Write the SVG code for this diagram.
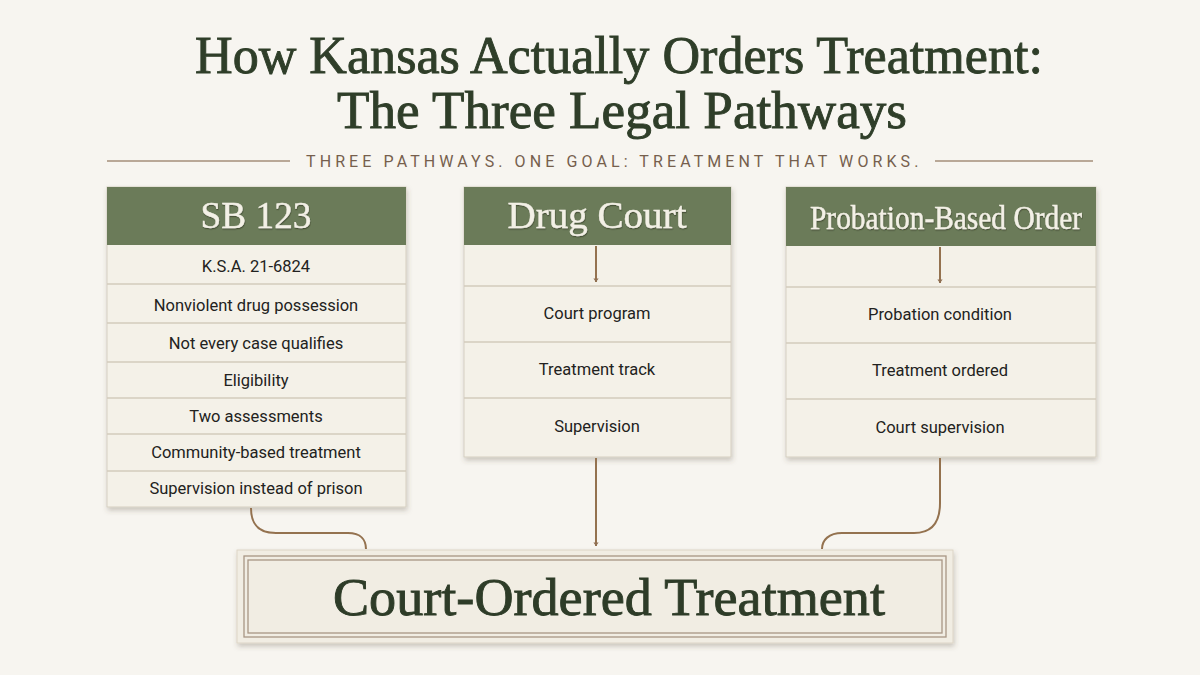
<svg xmlns="http://www.w3.org/2000/svg" width="1200" height="675" viewBox="0 0 1200 675">
<defs>
<filter id="sh" x="-10%" y="-10%" width="120%" height="130%">
<feDropShadow dx="1" dy="3" stdDeviation="2.5" flood-color="#5a4a35" flood-opacity="0.28"/>
</filter>
<filter id="ts" x="-5%" y="-20%" width="110%" height="140%">
<feDropShadow dx="0.5" dy="1.2" stdDeviation="0.6" flood-color="#2d3524" flood-opacity="0.6"/>
</filter>
<marker id="tip" viewBox="0 0 8 8" refX="4" refY="6" markerWidth="7" markerHeight="7" markerUnits="userSpaceOnUse" orient="0">
<path d="M1,2 L4,6 L7,2 Z" fill="#8f6f52"/>
</marker>
</defs>
<style>
.title{font-family:"Liberation Serif","Times New Roman",serif;font-size:52px;fill:#2f3e29;stroke:#2f3e29;stroke-width:0.9;text-anchor:middle}
.tag{font-family:Roboto,"Liberation Sans",sans-serif;font-size:16px;fill:#765f4d;letter-spacing:3.6px}
.rule{stroke:#a58e7a;stroke-width:1.6}
.card{fill:#f4f1e8;stroke:#d6cfc1;stroke-width:1}
.hdr{fill:#6b7b59}
.htxt{font-family:"Liberation Serif","Times New Roman",serif;fill:#f3f0e6;stroke:#f3f0e6;stroke-width:0.4;text-anchor:middle;filter:url(#ts)}
.div{stroke:#d3cbbd;stroke-width:1.4}
.row{font-family:Roboto,"Liberation Sans",sans-serif;font-size:16.5px;fill:#222220;text-anchor:middle}
.con{fill:none;stroke:#94724f;stroke-width:2}
.frame{fill:none;stroke:#a89684;stroke-width:1.3}
.big{font-family:"Liberation Serif","Times New Roman",serif;font-size:53px;fill:#2e3c28;stroke:#2e3c28;stroke-width:0.9;text-anchor:middle}
</style>
<rect width="1200" height="675" fill="#f7f5f0"/>

<g id="title">
<text class="title" x="619" y="73" textLength="848" lengthAdjust="spacingAndGlyphs">How Kansas Actually Orders Treatment:</text>
<text class="title" x="622" y="128" textLength="570" lengthAdjust="spacingAndGlyphs">The Three Legal Pathways</text>
</g>

<g id="tagline">
<line class="rule" x1="107" y1="161" x2="290" y2="161"/>
<text class="tag" x="306" y="167" textLength="616" lengthAdjust="spacing">THREE PATHWAYS. ONE GOAL: TREATMENT THAT WORKS.</text>
<line class="rule" x1="935" y1="161" x2="1093" y2="161"/>
</g>

<g id="sb123">
<g filter="url(#sh)">
<rect class="card" x="107" y="187" width="299" height="320"/>
</g>
<rect class="hdr" x="107" y="187" width="299" height="58"/>
<text class="htxt" x="256" y="228" font-size="37" textLength="111" lengthAdjust="spacingAndGlyphs">SB 123</text>
<line class="div" x1="107" y1="284" x2="406" y2="284"/>
<line class="div" x1="107" y1="323" x2="406" y2="323"/>
<line class="div" x1="107" y1="362" x2="406" y2="362"/>
<line class="div" x1="107" y1="398" x2="406" y2="398"/>
<line class="div" x1="107" y1="434" x2="406" y2="434"/>
<line class="div" x1="107" y1="471" x2="406" y2="471"/>
<text class="row" x="256" y="272">K.S.A. 21-6824</text>
<text class="row" x="256" y="311">Nonviolent drug possession</text>
<text class="row" x="256" y="349">Not every case qualifies</text>
<text class="row" x="256" y="386">Eligibility</text>
<text class="row" x="256" y="422">Two assessments</text>
<text class="row" x="256" y="458">Community-based treatment</text>
<text class="row" x="256" y="494">Supervision instead of prison</text>
</g>

<g id="drugcourt">
<g filter="url(#sh)">
<rect class="card" x="464" y="187" width="267" height="270"/>
</g>
<rect class="hdr" x="464" y="187" width="267" height="58"/>
<text class="htxt" x="597" y="228" font-size="37" textLength="179" lengthAdjust="spacingAndGlyphs">Drug Court</text>
<line class="div" x1="464" y1="286" x2="731" y2="286"/>
<line class="div" x1="464" y1="342" x2="731" y2="342"/>
<line class="div" x1="464" y1="398" x2="731" y2="398"/>
<text class="row" x="597" y="319">Court program</text>
<text class="row" x="597" y="375">Treatment track</text>
<text class="row" x="597" y="432">Supervision</text>
</g>

<g id="probation">
<g filter="url(#sh)">
<rect class="card" x="786" y="187" width="310" height="270"/>
</g>
<rect class="hdr" x="786" y="187" width="310" height="59"/>
<text class="htxt" x="946" y="229" font-size="33" textLength="272" lengthAdjust="spacingAndGlyphs">Probation-Based Order</text>
<line class="div" x1="786" y1="287" x2="1096" y2="287"/>
<line class="div" x1="786" y1="343" x2="1096" y2="343"/>
<line class="div" x1="786" y1="399" x2="1096" y2="399"/>
<text class="row" x="940" y="320">Probation condition</text>
<text class="row" x="940" y="376">Treatment ordered</text>
<text class="row" x="940" y="433">Court supervision</text>
</g>

<g id="court-ordered">
<g filter="url(#sh)">
<rect x="237" y="550" width="716" height="93" fill="#f1ede3" stroke="#ddd5c6" stroke-width="1"/>
</g>
<rect class="frame" x="244" y="556" width="702" height="81"/>
<rect class="frame" x="248" y="560" width="694" height="73"/>
<text class="big" x="609" y="615" textLength="552" lengthAdjust="spacingAndGlyphs">Court-Ordered Treatment</text>
</g>

<g id="connectors">
<path class="con" d="M596,246 L596,282" marker-end="url(#tip)"/>
<path class="con" d="M940,247 L940,283" marker-end="url(#tip)"/>
<path class="con" d="M251,508 C251,524 258,533 276,533 L348,533 C361,533 366,540 366,549"/>
<path class="con" d="M596,458 L596,546" marker-end="url(#tip)"/>
<path class="con" d="M940,458 L940,503 C940,523 932,533 914,533 L842,533 C829,533 822,540 822,549"/>
</g>
</svg>
